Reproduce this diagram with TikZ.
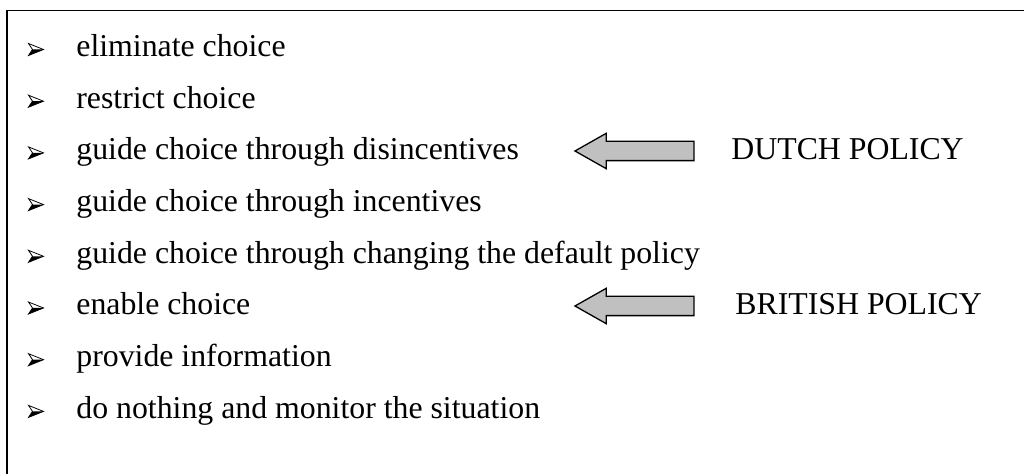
\documentclass[tikz,border=0pt]{standalone}
\usepackage{fontspec}
\setmainfont{Liberation Serif}
\usepackage{tikz}
\usetikzlibrary{shapes.arrows}
\usepackage{xcolor}
\definecolor{arrowgray}{RGB}{192,192,192}

\begin{document}
\begin{tikzpicture}[
  x=0.5pt, y=-0.5pt,
  itemtext/.style={anchor=base west, inner sep=0pt, font=\fontsize{15.9pt}{19pt}\selectfont},
  policylabel/.style={anchor=base west, inner sep=0pt, font=\fontsize{15.9pt}{19pt}\selectfont},
  policyarrow/.style={single arrow, shape border rotate=180, draw, line width=0.65pt,
    fill=arrowgray, minimum height=59.5pt, minimum width=17pt, inner xsep=0pt, inner ysep=4.5pt,
    single arrow head extend=4pt, single arrow tip angle=59, single arrow head indent=0pt},
  listmark/.pic={
    \draw[line width=0.4pt, line join=miter] (7.5,0) -- (-7.5,-6) -- (-3.5,0) -- (-7.5,6) -- cycle;
    \fill (7.5,0) -- (-3.5,0) -- (-7.5,6) -- cycle;
  },
]
\useasboundingbox (0,0) rectangle (1024,474);

% Frame (cut off at right and bottom)
\draw[line width=0.75pt] (7,474) |- (1024,10.5);

% Options, strongest first
\foreach \txt [count=\i] in {eliminate choice, restrict choice,
    guide choice through disincentives, guide choice through incentives,
    guide choice through changing the default policy, enable choice,
    provide information, do nothing and monitor the situation} {
  \pic at (36,{49.5+(\i-1)*51.7}) {listmark};
  \node[itemtext] (item\i) at (76,{56.5+(\i-1)*51.7}) {\txt};
}

% Policies
\node[policyarrow] (dutcharrow) at (643,151) {};
\node[policylabel] (dutch) at (731,159.9) {DUTCH POLICY};

\node[policyarrow] (britisharrow) at (643,306) {};
\node[policylabel] (british) at (735,315) {BRITISH POLICY};
\end{tikzpicture}
\end{document}
